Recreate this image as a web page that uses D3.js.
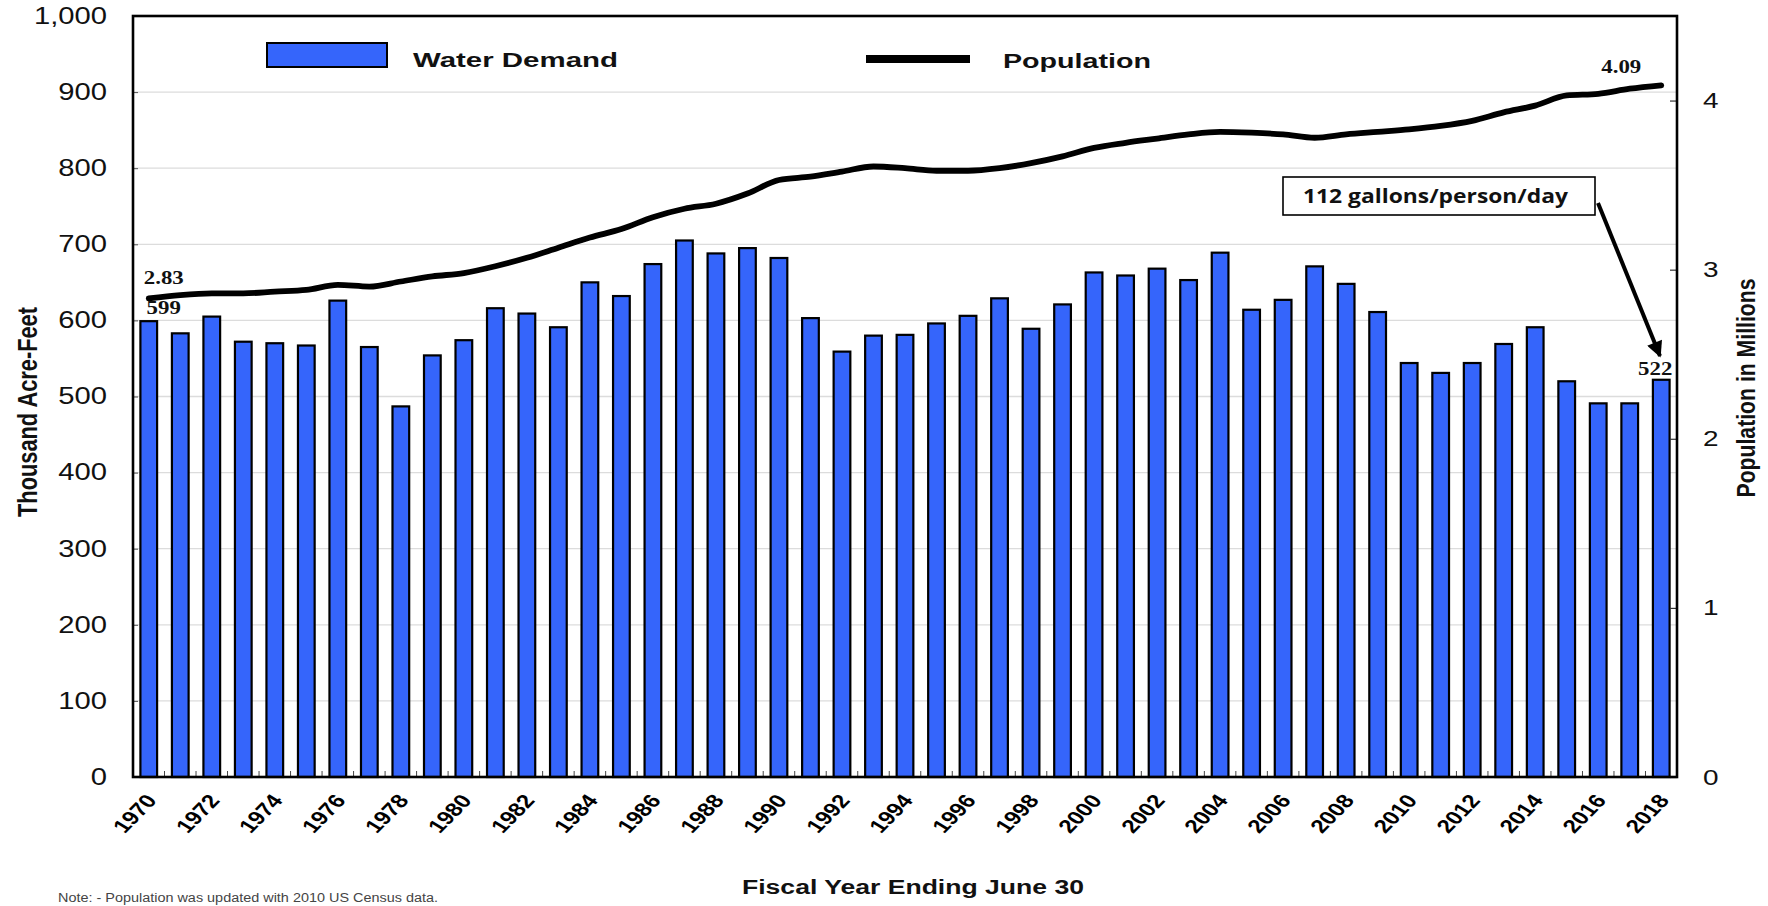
<!DOCTYPE html>
<html><head><meta charset="utf-8">
<script src="https://cdn.jsdelivr.net/npm/d3@7"></script>
<style>body{margin:0;background:#fff}svg{display:block}</style>
</head><body><svg id="c" width="1768" height="906"></svg>
<script>
const years = [1970,1971,1972,1973,1974,1975,1976,1977,1978,1979,1980,1981,1982,1983,1984,1985,1986,1987,1988,1989,
  1990,1991,1992,1993,1994,1995,1996,1997,1998,1999,2000,2001,2002,2003,2004,2005,2006,2007,2008,2009,
  2010,2011,2012,2013,2014,2015,2016,2017,2018];
const waterDemand = [599,583,605,572,570,567,626,565,487,554,574,616,609,591,650,632,674,705,688,695,
  682,603,559,580,581,596,606,629,589,621,663,659,668,653,689,614,627,671,648,611,
  544,531,544,569,591,520,491,491,522];
const population = [2.83,2.85,2.86,2.86,2.87,2.88,2.91,2.90,2.93,2.96,2.98,3.02,3.07,3.13,3.19,3.24,3.31,3.36,3.39,3.45,
  3.53,3.55,3.58,3.61,3.60,3.585,3.585,3.60,3.63,3.67,3.72,3.75,3.775,3.80,3.815,3.81,3.80,3.78,3.80,3.815,
  3.83,3.85,3.88,3.93,3.97,4.03,4.04,4.07,4.09];
const xTickYears = [1970,1972,1974,1976,1978,1980,1982,1984,1986,1988,1990,1992,1994,1996,1998,2000,2002,2004,2006,2008,2010,2012,2014,2016,2018];
const leftTicks = [0,100,200,300,400,500,600,700,800,900,1000];
const rightTicks = [0,1,2,3,4];

const svg = d3.select("#c");
const L=133,R=1677,T=16,B=777;
const SX = 1.27;
const FONT = "'Liberation Sans', Arial, sans-serif";
const BLUE = "#3565fb";

const x = d3.scaleBand().domain(years).range([L,R]).paddingInner(0.47).paddingOuter(0.235);
const yL = d3.scaleLinear().domain([0,1000]).range([B,T]);
const yR = d3.scaleLinear().domain([0,4.5]).range([B,T]);
const cx = d => x(d) + x.bandwidth()/2;

// gridlines
svg.append("g").selectAll("line").data(leftTicks.filter(d=>d>0&&d<1000)).join("line")
  .attr("x1",L).attr("x2",R).attr("y1",d=>yL(d)).attr("y2",d=>yL(d))
  .attr("stroke","#dcdcdc").attr("stroke-width",1.3);

// bars
svg.append("g").selectAll("rect").data(years).join("rect")
  .attr("x",d=>x(d)).attr("width",x.bandwidth())
  .attr("y",(d,i)=>yL(waterDemand[i])).attr("height",(d,i)=>B-yL(waterDemand[i]))
  .attr("fill",BLUE).attr("stroke","#000").attr("stroke-width",2.2);

// population line
const line = d3.line().x((d,i)=>cx(years[i])).y(d=>yR(d)).curve(d3.curveMonotoneX);
svg.append("path").datum(population).attr("d",line)
  .attr("fill","none").attr("stroke","#000").attr("stroke-width",5.8)
  .attr("stroke-linecap","round").attr("stroke-linejoin","round");

// left axis
const gL = svg.append("g").attr("transform",`translate(${L},0)`)
  .call(d3.axisLeft(yL).tickValues(leftTicks).tickFormat(d3.format(",")).tickSize(-5).tickPadding(26/SX));
gL.select(".domain").remove();
gL.selectAll(".tick line").attr("stroke","#555").attr("stroke-width",1);
gL.selectAll(".tick text").attr("font-family",FONT).attr("font-size",23).attr("fill","#111")
  .attr("transform",`scale(${SX},1)`);

// right axis
const gR = svg.append("g").attr("transform",`translate(${R},0)`)
  .call(d3.axisRight(yR).tickValues(rightTicks).tickFormat(d3.format("d")).tickSize(-7).tickPadding(26/SX));
gR.select(".domain").remove();
gR.selectAll(".tick line").attr("stroke","#333").attr("stroke-width",1.2);
gR.selectAll(".tick text").attr("font-family",FONT).attr("font-size",22).attr("fill","#111")
  .attr("transform",`scale(${SX},1)`);

// x axis labels
const gX = svg.append("g").attr("transform",`translate(0,${B})`)
  .call(d3.axisBottom(x).tickValues(xTickYears).tickSize(0).tickPadding(0));
gX.select(".domain").remove();
gX.selectAll(".tick text").attr("font-family",FONT).attr("font-size",19).attr("font-weight","bold")
  .attr("fill","#000").attr("y",null).attr("dy",null).attr("text-anchor","end")
  .attr("transform",`translate(9,24) scale(${SX},1) rotate(-52)`);

// small inside ticks at band boundaries
const stepGap = (x.step()-x.bandwidth())/2;
svg.append("g").selectAll("line").data(years.slice(1)).join("line")
  .attr("x1",d=>x(d)-stepGap).attr("x2",d=>x(d)-stepGap).attr("y1",B).attr("y2",B-6)
  .attr("stroke","#444").attr("stroke-width",1);

// frame
svg.append("rect").attr("x",L).attr("y",T).attr("width",R-L).attr("height",B-T)
  .attr("fill","none").attr("stroke","#000").attr("stroke-width",2.6);

// data labels
const serif = "'Liberation Serif','Times New Roman',serif";
function lab(txt, x0, y0){
  svg.append("text").attr("transform",`translate(${x0},${y0}) scale(${SX},1)`)
    .attr("text-anchor","middle").attr("font-family",serif).attr("font-weight","bold")
    .attr("font-size",18).attr("fill","#111").text(txt);
}
const n = years.length-1;
lab(population[0].toFixed(2), cx(years[0])+15, yR(population[0])-14);
lab(String(waterDemand[0]), cx(years[0])+15, yL(waterDemand[0])-7);
lab(population[n].toFixed(2), cx(years[n])-40, yR(population[n])-12);
lab(String(waterDemand[n]), cx(years[n])-6, yL(waterDemand[n])-5);

// legend
svg.append("rect").attr("x",267).attr("y",43).attr("width",120).attr("height",24)
  .attr("fill",BLUE).attr("stroke","#000").attr("stroke-width",2);
svg.append("text").attr("x",413).attr("y",67).attr("font-family",FONT).attr("font-weight","bold")
  .attr("font-size",21).attr("textLength",205).attr("lengthAdjust","spacingAndGlyphs").attr("fill","#111").text("Water Demand");
svg.append("line").attr("x1",866).attr("x2",970).attr("y1",59).attr("y2",59)
  .attr("stroke","#000").attr("stroke-width",8);
svg.append("text").attr("x",1003).attr("y",68).attr("font-family",FONT).attr("font-weight","bold")
  .attr("font-size",21).attr("textLength",148).attr("lengthAdjust","spacingAndGlyphs").attr("fill","#111").text("Population");

// annotation box + arrow
svg.append("defs").append("marker").attr("id","ah").attr("viewBox","0 0 10 10")
  .attr("refX",9).attr("refY",5).attr("markerUnits","userSpaceOnUse")
  .attr("markerWidth",18).attr("markerHeight",16).attr("orient","auto")
  .append("path").attr("d","M0,0 L10,5 L0,10 Z").attr("fill","#000");
svg.append("rect").attr("x",1283).attr("y",177).attr("width",312).attr("height",38)
  .attr("fill","#fff").attr("stroke","#000").attr("stroke-width",1.6);
svg.append("text").attr("x",1303).attr("y",203).attr("font-family","'Open Sans','Lato',sans-serif")
  .attr("font-weight","bold").attr("font-size",19).attr("textLength",265).attr("lengthAdjust","spacingAndGlyphs")
  .attr("fill","#111").text("112 gallons/person/day");
svg.append("line").attr("x1",1598).attr("y1",203).attr("x2",1660).attr("y2",356)
  .attr("stroke","#000").attr("stroke-width",4).attr("marker-end","url(#ah)");

// axis titles
svg.append("text").attr("transform",`translate(37,412) scale(${SX},1) rotate(-90)`)
  .attr("text-anchor","middle").attr("font-family",FONT).attr("font-weight","bold").attr("font-size",22)
  .attr("textLength",210).attr("lengthAdjust","spacingAndGlyphs").attr("fill","#111").text("Thousand Acre-Feet");
svg.append("text").attr("transform",`translate(1755,388) scale(${SX},1) rotate(-90)`)
  .attr("text-anchor","middle").attr("font-family",FONT).attr("font-weight","bold").attr("font-size",20)
  .attr("textLength",219).attr("lengthAdjust","spacingAndGlyphs").attr("fill","#111").text("Population in Millions");
svg.append("text").attr("x",742).attr("y",894).attr("font-family",FONT).attr("font-weight","bold").attr("font-size",20)
  .attr("textLength",342).attr("lengthAdjust","spacingAndGlyphs").attr("fill","#111").text("Fiscal Year Ending June 30");
svg.append("text").attr("x",58).attr("y",902).attr("font-family",FONT).attr("font-size",12.5)
  .attr("textLength",380).attr("lengthAdjust","spacingAndGlyphs").attr("fill","#444")
  .text("Note: - Population was updated with 2010 US Census data.");
</script></body></html>
